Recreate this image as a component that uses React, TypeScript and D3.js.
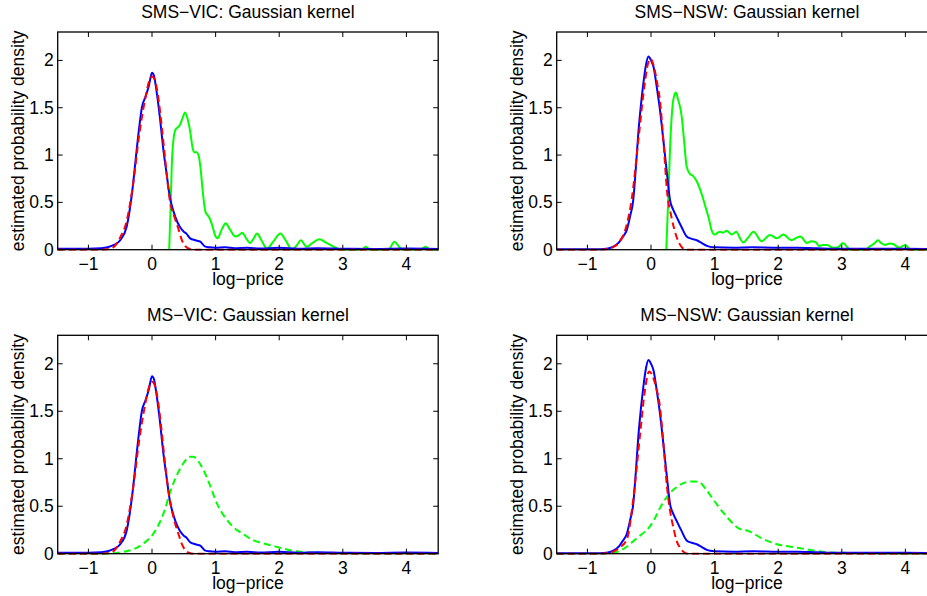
import React from 'react';
import * as d3 from 'd3';

type Pt = [number, number];

const xTicks = [-1, 0, 1, 2, 3, 4];
const xTickLabels = ['−1', '0', '1', '2', '3', '4'];
const yTicks = [0, 0.5, 1, 1.5, 2];
const yTickLabels = ['0', '0.5', '1', '1.5', '2'];
const xDomain: [number, number] = [-1.483, 4.5];
const yDomain: [number, number] = [0, 2.3];
const xLabel = 'log−price';
const yLabel = 'estimated probability density';
const titles = [
  'SMS−VIC: Gaussian kernel',
  'SMS−NSW: Gaussian kernel',
  'MS−VIC: Gaussian kernel',
  'MS−NSW: Gaussian kernel',
];

// kernel density of VIC log-prices (blue)
const vicKde: Pt[] = [[-1.48,0.01],[-1.0,0.01],[-0.8,0.015],[-0.7,0.025],[-0.6,0.05],[-0.5,0.1],[-0.4,0.24],[-0.3,0.68],[-0.25,1.0],[-0.2,1.3],[-0.16,1.5],[-0.1,1.62],[-0.05,1.73],[0,1.87],[0.03,1.84],[0.07,1.68],[0.12,1.42],[0.18,1.05],[0.23,0.8],[0.28,0.56],[0.34,0.4],[0.4,0.29],[0.44,0.24],[0.5,0.19],[0.54,0.17],[0.6,0.12],[0.68,0.1],[0.76,0.085],[0.83,0.035],[0.9,0.025],[1.0,0.02],[1.15,0.025],[1.3,0.015],[1.5,0.02],[1.7,0.012],[2.0,0.02],[2.3,0.01],[2.6,0.015],[3.0,0.01],[3.5,0.008],[4.0,0.012],[4.5,0.008]];
// kernel density of NSW log-prices (blue)
const nswKde: Pt[] = [[-1.48,0.005],[-1.0,0.005],[-0.8,0.005],[-0.7,0.01],[-0.6,0.03],[-0.5,0.08],[-0.45,0.13],[-0.38,0.21],[-0.33,0.35],[-0.28,0.52],[-0.24,0.85],[-0.2,1.23],[-0.16,1.52],[-0.12,1.76],[-0.08,1.95],[-0.04,2.04],[0.0,2.0],[0.04,1.93],[0.09,1.72],[0.14,1.48],[0.2,1.12],[0.25,0.81],[0.3,0.52],[0.35,0.42],[0.4,0.35],[0.48,0.24],[0.56,0.14],[0.64,0.115],[0.72,0.1],[0.8,0.07],[0.88,0.04],[0.93,0.03],[1.0,0.025],[1.3,0.02],[1.6,0.025],[2.0,0.02],[2.3,0.02],[2.6,0.015],[3.0,0.01],[3.5,0.01],[4.0,0.01],[4.6,0.005]];

// fitted base regime (red dashed)
const smsVicFit: Pt[] = [[-1.48,0],[-0.8,0],[-0.7,0.005],[-0.6,0.03],[-0.5,0.13],[-0.4,0.3],[-0.3,0.68],[-0.2,1.22],[-0.1,1.62],[-0.05,1.77],[0,1.83],[0.05,1.78],[0.1,1.6],[0.15,1.32],[0.2,1.0],[0.25,0.68],[0.28,0.52],[0.35,0.35],[0.42,0.21],[0.47,0.1],[0.52,0.04],[0.58,0.01],[0.65,0],[4.6,0]];
const smsNswFit: Pt[] = [[-1.48,0],[-0.8,0],[-0.7,0.005],[-0.6,0.025],[-0.5,0.08],[-0.4,0.22],[-0.3,0.55],[-0.2,1.15],[-0.1,1.75],[-0.05,1.96],[-0.01,2.02],[0.04,1.95],[0.1,1.75],[0.14,1.58],[0.2,1.1],[0.25,0.63],[0.32,0.35],[0.4,0.14],[0.48,0.03],[0.55,0],[4.6,0]];
const msVicFit: Pt[] = [[-1.48,0],[-0.8,0],[-0.7,0.005],[-0.6,0.03],[-0.5,0.13],[-0.4,0.3],[-0.3,0.68],[-0.2,1.2],[-0.1,1.6],[-0.05,1.75],[0,1.81],[0.05,1.76],[0.1,1.58],[0.15,1.3],[0.2,0.98],[0.25,0.7],[0.3,0.5],[0.35,0.35],[0.42,0.2],[0.47,0.1],[0.52,0.04],[0.58,0.01],[0.65,0],[4.6,0]];
const msNswFit: Pt[] = [[-1.48,0],[-0.8,0],[-0.7,0.005],[-0.6,0.02],[-0.5,0.06],[-0.38,0.15],[-0.28,0.57],[-0.17,1.27],[-0.1,1.7],[-0.03,1.92],[0.02,1.88],[0.08,1.75],[0.14,1.55],[0.2,1.12],[0.25,0.71],[0.3,0.45],[0.35,0.28],[0.4,0.14],[0.46,0.06],[0.52,0.015],[0.58,0],[4.6,0]];

// spike regime (green)
const smsVicSpike: Pt[] = [[0.27,0],[0.29,0.4],[0.31,0.88],[0.34,1.18],[0.37,1.27],[0.4,1.29],[0.44,1.32],[0.48,1.39],[0.52,1.45],[0.56,1.38],[0.6,1.25],[0.64,1.07],[0.67,1.03],[0.7,1.03],[0.73,1.0],[0.76,0.88],[0.8,0.6],[0.84,0.4],[0.9,0.34],[0.95,0.25],[1.0,0.14],[1.03,0.12],[1.1,0.22],[1.16,0.28],[1.22,0.22],[1.31,0.14],[1.36,0.15],[1.42,0.18],[1.48,0.12],[1.54,0.07],[1.6,0.12],[1.65,0.17],[1.72,0.1],[1.81,0.01],[1.9,0.08],[2.02,0.17],[2.1,0.1],[2.2,0],[2.28,0.05],[2.34,0.1],[2.43,0.03],[2.52,0.07],[2.63,0.11],[2.75,0.07],[2.86,0.03],[2.98,0],[3.3,0],[3.36,0.03],[3.43,0],[3.72,0],[3.81,0.085],[3.9,0.02],[3.95,0],[4.22,0],[4.3,0.03],[4.38,0],[4.6,0]];
const smsNswSpike: Pt[] = [[0.24,0],[0.27,0.52],[0.31,1.23],[0.35,1.58],[0.39,1.66],[0.42,1.6],[0.48,1.42],[0.52,1.15],[0.56,0.88],[0.61,0.8],[0.66,0.78],[0.72,0.72],[0.8,0.58],[0.87,0.42],[0.92,0.3],[0.95,0.21],[1.0,0.16],[1.08,0.19],[1.13,0.18],[1.19,0.2],[1.27,0.16],[1.34,0.19],[1.4,0.12],[1.45,0.075],[1.53,0.13],[1.61,0.19],[1.74,0.09],[1.87,0.155],[1.98,0.12],[2.08,0.16],[2.21,0.1],[2.3,0.13],[2.35,0.14],[2.45,0.07],[2.52,0.09],[2.59,0.08],[2.64,0.04],[2.7,0.05],[2.77,0.05],[2.86,0.02],[2.95,0.03],[3.02,0.07],[3.08,0.03],[3.13,0],[3.37,0],[3.45,0.04],[3.5,0.06],[3.57,0.1],[3.62,0.07],[3.68,0.05],[3.75,0.065],[3.81,0.06],[3.87,0.03],[3.91,0.02],[3.96,0.04],[4.0,0.05],[4.08,0],[4.6,0]];
const msVicSpike: Pt[] = [[-1.48,0],[-0.8,0],[-0.6,0.005],[-0.45,0.02],[-0.3,0.045],[-0.15,0.1],[0.02,0.21],[0.1,0.3],[0.2,0.46],[0.28,0.64],[0.4,0.84],[0.5,0.96],[0.6,1.02],[0.65,1.02],[0.72,0.98],[0.81,0.88],[0.9,0.74],[1.02,0.53],[1.15,0.38],[1.28,0.28],[1.45,0.2],[1.6,0.14],[1.8,0.1],[1.97,0.07],[2.15,0.04],[2.34,0.02],[2.6,0.01],[3.0,0.005],[3.5,0],[4.6,0]];
const msNswSpike: Pt[] = [[-1.48,0],[-0.8,0],[-0.6,0.01],[-0.46,0.04],[-0.35,0.09],[-0.23,0.16],[-0.1,0.23],[-0.02,0.285],[0.05,0.36],[0.14,0.48],[0.22,0.57],[0.3,0.64],[0.4,0.7],[0.5,0.74],[0.61,0.76],[0.7,0.76],[0.77,0.75],[0.85,0.69],[0.98,0.57],[1.08,0.48],[1.19,0.39],[1.3,0.31],[1.4,0.26],[1.48,0.25],[1.56,0.23],[1.72,0.17],[1.85,0.13],[1.98,0.1],[2.24,0.07],[2.5,0.04],[2.77,0.015],[3.0,0.01],[3.3,0.005],[4.6,0]];

const panelData = [
  { kde: vicKde, fit: smsVicFit, spike: smsVicSpike, spikeDashed: false },
  { kde: nswKde, fit: smsNswFit, spike: smsNswSpike, spikeDashed: false },
  { kde: vicKde, fit: msVicFit, spike: msVicSpike, spikeDashed: true },
  { kde: nswKde, fit: msNswFit, spike: msNswSpike, spikeDashed: true },
];

const layout = [
  { left: 57.7, right: 937.2 - 499, top: 32, bottom: 249.7 },
  { left: 556.7, right: 937.2, top: 32, bottom: 249.7 },
  { left: 57.7, right: 937.2 - 499, top: 335.3, bottom: 553.7 },
  { left: 556.7, right: 937.2, top: 335.3, bottom: 553.7 },
];

const FONT = '"Liberation Sans", Arial, Helvetica, sans-serif';
const FS = 17.5;

function Panel({ idx }: { idx: number }) {
  const L = layout[idx];
  const d = panelData[idx];
  const x = d3.scaleLinear().domain(xDomain).range([L.left, L.right]);
  const y = d3.scaleLinear().domain(yDomain).range([L.bottom, L.top]);
  const line = d3.line<Pt>().x((p) => x(p[0])).y((p) => y(p[1])).curve(d3.curveMonotoneX);
  const clipId = `clip${idx}`;
  const tl = 5;
  const cx = (L.left + L.right) / 2;
  const cy = (L.top + L.bottom) / 2;
  return (
    <g>
      <defs>
        <clipPath id={clipId}>
          <rect x={L.left} y={L.top - 1} width={L.right - L.left} height={L.bottom - L.top + 2} />
        </clipPath>
      </defs>
      <g clipPath={`url(#${clipId})`} fill="none" strokeWidth={2} strokeLinejoin="round">
        <path d={line(d.spike) || ''} stroke="#00ff00" strokeDasharray={d.spikeDashed ? '7,4' : undefined} />
        <path d={line(d.kde) || ''} stroke="#0000ff" />
        <path d={line(d.fit) || ''} stroke="#ff0000" strokeDasharray="7,4" />
      </g>
      <rect x={L.left} y={L.top} width={L.right - L.left} height={L.bottom - L.top} fill="none" stroke="#000" strokeWidth={1.3} />
      {xTicks.map((t) => (
        <g key={`xt${t}`} stroke="#000" strokeWidth={1}>
          <line x1={x(t)} x2={x(t)} y1={L.bottom} y2={L.bottom - tl} />
          <line x1={x(t)} x2={x(t)} y1={L.top} y2={L.top + tl} />
        </g>
      ))}
      {yTicks.map((t) => (
        <g key={`yt${t}`} stroke="#000" strokeWidth={1}>
          <line x1={L.left} x2={L.left + tl} y1={y(t)} y2={y(t)} />
          <line x1={L.right} x2={L.right - tl} y1={y(t)} y2={y(t)} />
        </g>
      ))}
      {xTicks.map((t, i) => (
        <text key={`xl${t}`} x={x(t)} y={L.bottom + 20} textAnchor="middle" fontSize={FS} fontFamily={FONT}>
          {xTickLabels[i]}
        </text>
      ))}
      {yTicks.map((t, i) => (
        <text key={`yl${t}`} x={L.left - 4} y={y(t) + 6} textAnchor="end" fontSize={FS} fontFamily={FONT}>
          {yTickLabels[i]}
        </text>
      ))}
      <text x={cx} y={L.bottom + 35} textAnchor="middle" fontSize={FS} fontFamily={FONT}>{xLabel}</text>
      <text x={cx} y={L.top - 14} textAnchor="middle" fontSize={FS} fontFamily={FONT}>{titles[idx]}</text>
      <text transform={`translate(${L.left - 34},${cy}) rotate(-90)`} textAnchor="middle" fontSize={FS} fontFamily={FONT}>{yLabel}</text>
    </g>
  );
}

export default function App() {
  return (
    <svg width={927} height={596} style={{ position: 'absolute', left: 0, top: 0, background: '#fff' }}>
      <rect x={0} y={0} width={927} height={596} fill="#fff" />
      {[0, 1, 2, 3].map((i) => <Panel key={i} idx={i} />)}
    </svg>
  );
}
